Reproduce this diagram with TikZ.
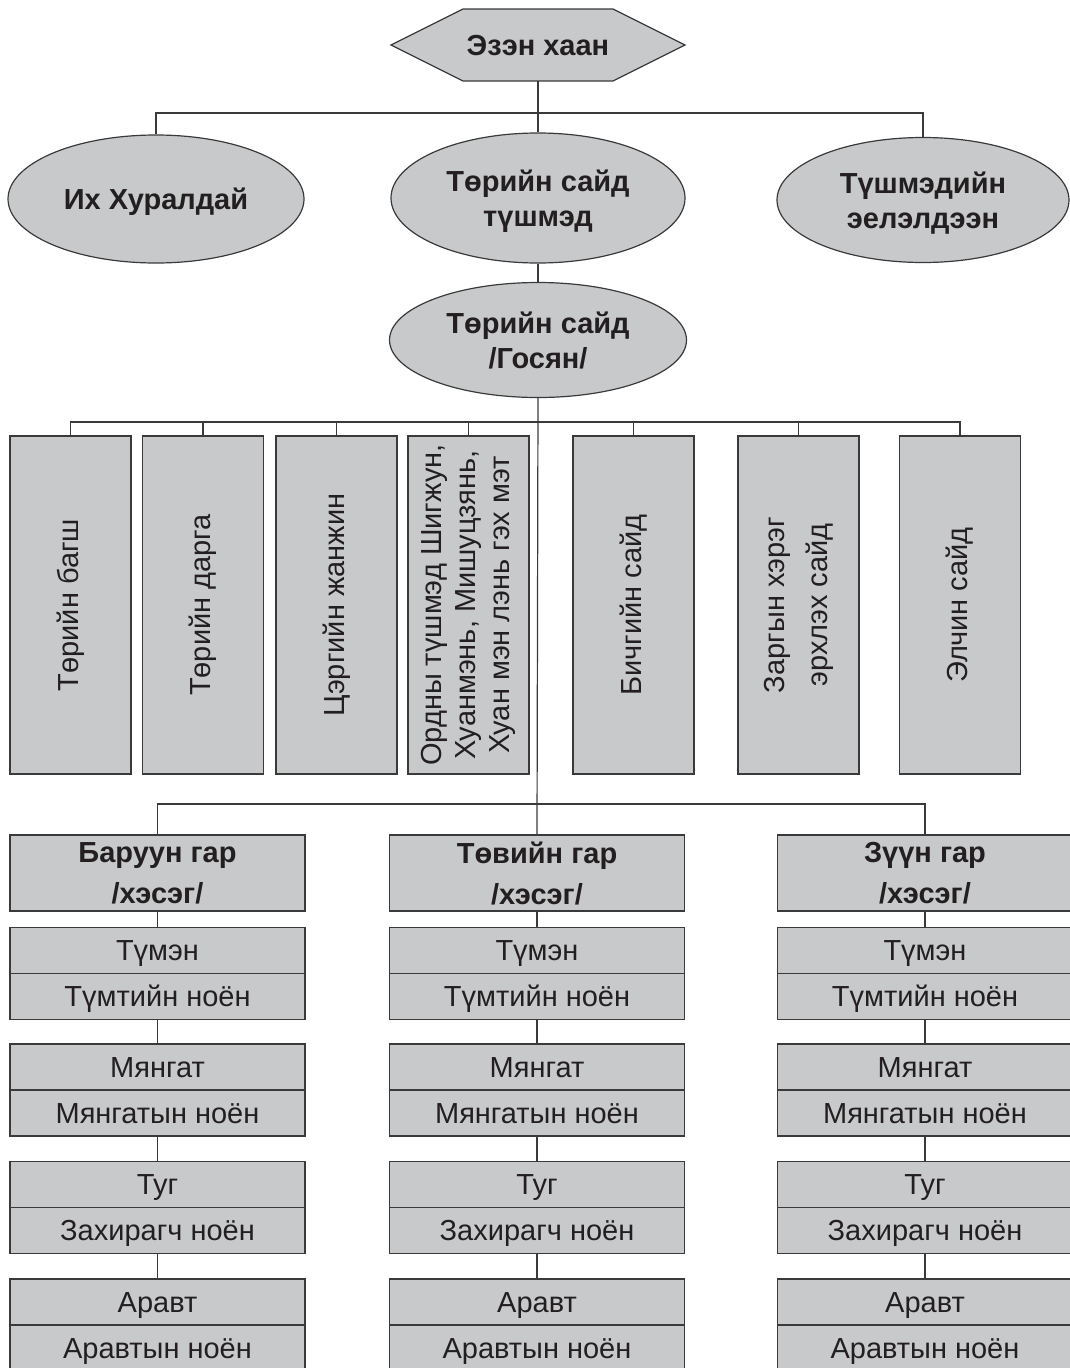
\documentclass[tikz,border=0pt]{standalone}
\usepackage{fontspec}
\setmainfont{Liberation Sans}
\usetikzlibrary{shapes.geometric}
\definecolor{boxfill}{HTML}{C8C9CB}
\definecolor{linec}{HTML}{3A3A3A}
\definecolor{txt}{HTML}{231F20}
\newcommand{\regf}{\fontsize{29}{34}\selectfont}
\newcommand{\boldf}{\fontsize{29}{35}\selectfont\bfseries}
\newcommand{\headf}{\fontsize{29}{41}\selectfont\bfseries}
\tikzset{
  conn/.style={draw=linec, line width=1.2pt},
  gray/.style={fill=boxfill, draw=linec, line width=1.2pt, text=txt, inner sep=0pt},
  oval/.style={gray, ellipse, minimum width=296pt, minimum height=128pt, align=center, font=\boldf, text depth=0pt},
  vbox/.style={gray, rectangle, rotate=90, minimum width=338pt, minimum height=121pt, align=center, font=\regf},
  hbox/.style={gray, rectangle, minimum width=295pt, minimum height=46pt, font=\regf, text height=20.8pt, text depth=0pt},
  head/.style={gray, rectangle, minimum width=295pt, minimum height=76pt, align=center, font=\headf},
}
\begin{document}
\begin{tikzpicture}[x=1pt, y=-1pt]
\useasboundingbox (0,0) rectangle (1069,1368);
% top hexagon
\fill[boxfill] (391,45) -- (463,9) -- (613,9) -- (685,45) -- (613,81) -- (463,81) -- cycle;
\draw[conn] (391,45) -- (463,9) -- (613,9) -- (685,45) -- (613,81) -- (463,81) -- cycle;
\node[inner sep=0pt, minimum height=72pt, minimum width=294pt, text=txt, font=\boldf, text height=20.8pt, text depth=0pt] (khan) at (538,45) {Эзэн хаан};
% ellipses
\node[oval] (ix) at (156,199) {Их Хуралдай};
\node[oval, minimum width=294pt, minimum height=130pt] (s1) at (538,198) {Төрийн сайд\\түшмэд};
\node[oval, minimum width=292pt, minimum height=125pt] (tush) at (923,200) {Түшмэдийн\\эелэлдээн};
\node[oval, minimum width=297pt, minimum height=115pt] (s2) at (538,340) {Төрийн сайд\\/Госян/};
% junctions
\coordinate (j1) at (538,113);
\coordinate (j2) at (538,422);
\coordinate (j3) at (538,804);
% vertical boxes
\node[vbox] (v1) at (70.5,605) {Төрийн багш};
\node[vbox] (v2) at (203,605) {Төрийн дарга};
\node[vbox] (v3) at (336.5,605) {Цэргийн жанжин};
\node[vbox, font=\fontsize{29}{34}\selectfont] (v4) at (468.5,605) {Ордны түшмэд Шигжун,\\Хуанмэнь, Мишуцзянь,\\Хуан мэн лэнь гэх мэт};
\node[vbox] (v5) at (633.5,605) {Бичгийн сайд};
\node[vbox, font=\fontsize{29}{43}\selectfont] (v6) at (798.5,605) {Заргын хэрэг\\эрхлэх сайд};
\node[vbox] (v7) at (960,605) {Элчин сайд};
% bottom columns
\foreach \c/\x/\t in {L/157.5/Баруун гар, M/537/Төвийн гар, R/925/Зүүн гар}{
  \node[head] (\c0) at (\x,873) {\t\\/хэсэг/};
  \node[hbox] (\c1) at (\x,950.5) {Түмэн};
  \node[hbox] (\c2) at (\x,996.5) {Түмтийн ноён};
  \node[hbox] (\c3) at (\x,1067) {Мянгат};
  \node[hbox] (\c4) at (\x,1113) {Мянгатын ноён};
  \node[hbox] (\c5) at (\x,1184.5) {Туг};
  \node[hbox] (\c6) at (\x,1230.5) {Захирагч ноён};
  \node[hbox] (\c7) at (\x,1302) {Аравт};
  \node[hbox] (\c8) at (\x,1348) {Аравтын ноён};
  \draw[conn] (\c0.south) -- (\c1.north);
  \draw[conn] (\c2.south) -- (\c3.north);
  \draw[conn] (\c4.south) -- (\c5.north);
  \draw[conn] (\c6.south) -- (\c7.north);
}
% connectors
\draw[conn] (khan.south) -- (s1.north);
\draw[conn] (ix.north) |- (j1) -| (tush.north);
\draw[conn] (s1.south) -- (s2.north);
\draw[conn] (s2.south) -- (M0.north);
\draw[conn] (v1.east) |- (j2) -| (v7.east);
\foreach \v in {v2,v3,v4,v5,v6}{
  \draw[conn] (\v.east) -- (\v.east |- j2);
}
\draw[conn] (L0.north) |- (j3) -| (R0.north);
\end{tikzpicture}
\end{document}
